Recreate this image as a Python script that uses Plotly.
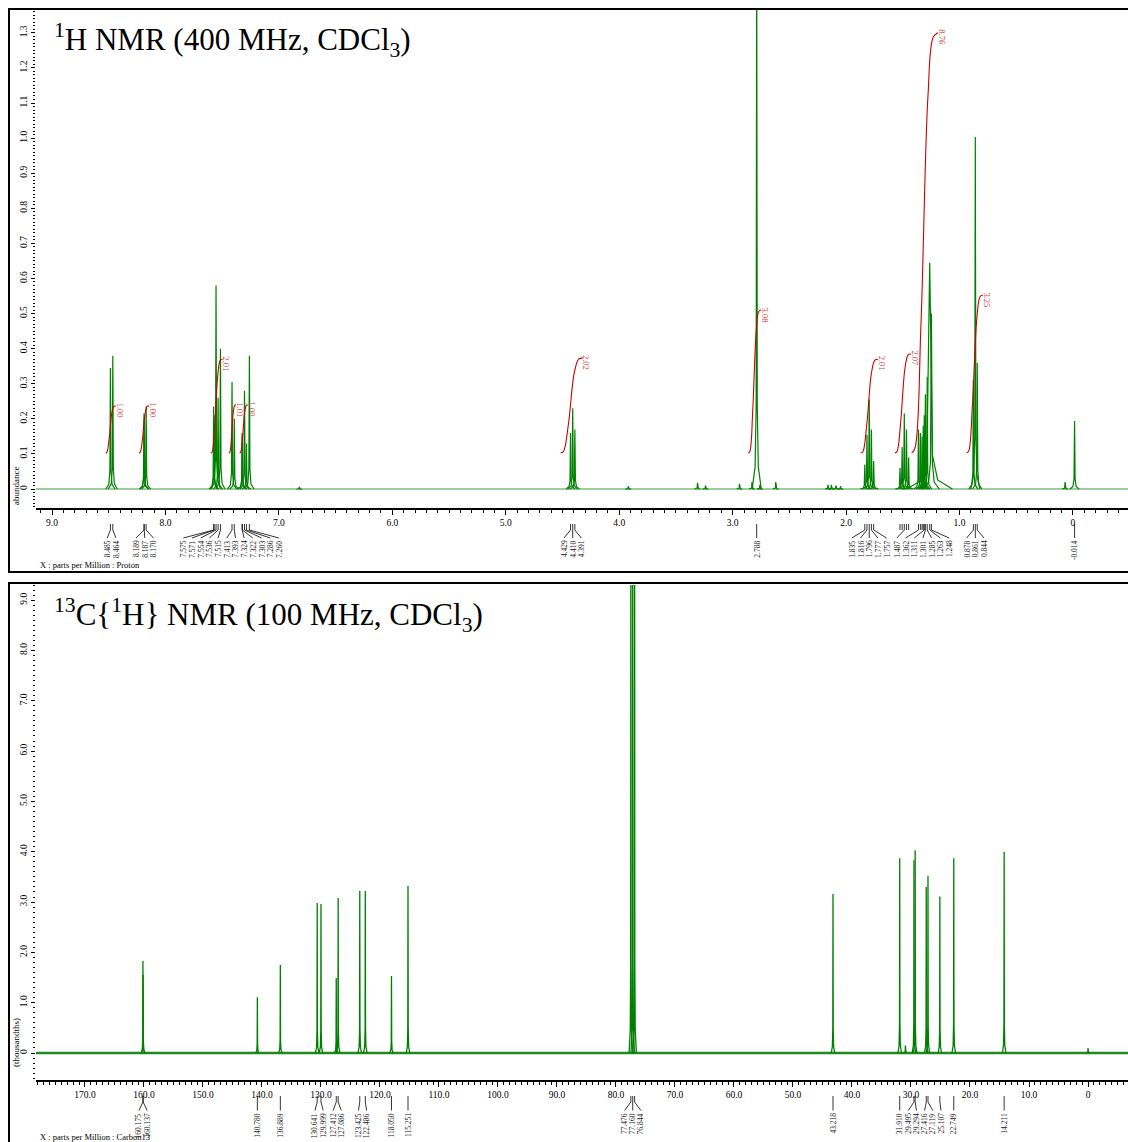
import plotly.graph_objects as go

# ---------------- page geometry (page pixels) ----------------
FIG_W, FIG_H = 1128, 1142
OFF = 0  # body margin is removed by the post script


def fx(xp):
    return (xp - OFF) / FIG_W


def fy(yp):
    return 1 - (yp - OFF) / FIG_H


SERIF = "Liberation Serif"
GREEN = "#008000"
BASE_GREEN = "#3c9c3c"
RED = "#cc0000"
RED_TXT = "#d43a3a"

# ---------------- 1H data ----------------
H_TITLE = "<sup>1</sup>H NMR (400 MHz, CDCl<sub>3</sub>)"
H_XRANGE = [9.141, -0.485]
H_YRANGE = [-0.054, 1.365]
H_XTICKS = [9, 8, 7, 6, 5, 4, 3, 2, 1, 0]
H_XTICKTEXT = ["9.0", "8.0", "7.0", "6.0", "5.0", "4.0", "3.0", "2.0", "1.0", "0"]
H_YTICKS = [0, 0.1, 0.2, 0.3, 0.4, 0.5, 0.6, 0.7, 0.8, 0.9, 1.0, 1.1, 1.2, 1.3]
H_YTICKTEXT = ["0", "0.1", "0.2", "0.3", "0.4", "0.5", "0.6", "0.7", "0.8", "0.9",
               "1.0", "1.1", "1.2", "1.3"]

# labelled (picked) peaks
H_PPM = [8.485, 8.464, 8.189, 8.187, 8.170,
         7.575, 7.571, 7.554, 7.536, 7.515, 7.413, 7.393,
         7.324, 7.322, 7.303, 7.286, 7.260,
         4.429, 4.410, 4.391, 2.788,
         1.835, 1.816, 1.796, 1.777, 1.757,
         1.487, 1.362, 1.311, 1.301, 1.285, 1.263, 1.248,
         0.878, 0.861, 0.844, -0.014]
H_HEIGHT = [0.345, 0.380, 0.215, 0.200, 0.235,
            0.235, 0.210, 0.580, 0.260, 0.400, 0.305, 0.200,
            0.160, 0.150, 0.280, 0.130, 0.380,
            0.160, 0.230, 0.170, 1.600,
            0.070, 0.155, 0.255, 0.170, 0.080,
            0.215, 0.170, 0.210, 0.270, 0.320, 0.645, 0.500,
            0.310, 1.003, 0.360, 0.194]
H_WIDTH = [0.04] * 31 + [0.2, 0.07] + [0.04] * 4

# unlabelled peaks that still carry a pick mark
H_TICKED_PPM = [1.525, 1.506, 1.468, 1.449, 1.345, 1.330, 1.320]
H_TICKED_HEIGHT = [0.060, 0.120, 0.170, 0.090, 0.160, 0.150, 0.180]

# small impurity peaks (not picked)
H_MINOR_PPM = [6.82, 3.92, 3.31, 3.24, 2.94, 2.83, 2.76, 2.62, 2.16, 2.13, 2.09, 2.05, 0.07]
H_MINOR_HEIGHT = [0.006, 0.008, 0.018, 0.010, 0.015, 0.020, 0.012, 0.020, 0.012, 0.012,
                  0.010, 0.008, 0.020]

# integrals
H_INT_START = [8.527, 8.233, 7.601, 7.440, 7.346, 4.516, 2.862, 1.871, 1.569, 1.422, 0.937]
H_INT_END = [8.439, 8.145, 7.498, 7.378, 7.274, 4.322, 2.750, 1.719, 1.428, 1.190, 0.793]
H_INT_BASE = [0.103] * 11
H_INT_TOP = [0.237, 0.237, 0.370, 0.240, 0.240, 0.373, 0.510, 0.370, 0.385, 1.300, 0.553]
H_INT_VALUE = ["1.00", "1.00", "2.01", "1.01", "1.00", "2.02", "3.08", "2.01", "2.07",
               "8.76", "3.25"]

# ---------------- 13C data ----------------
C_TITLE = "<sup>13</sup>C{<sup>1</sup>H} NMR (100 MHz, CDCl<sub>3</sub>)"
C_XRANGE = [178.3, -6.78]
C_YRANGE = [-0.536, 9.30]
C_XTICKS = [170, 160, 150, 140, 130, 120, 110, 100, 90, 80, 70, 60, 50, 40, 30, 20, 10, 0]
C_XTICKTEXT = ["170.0", "160.0", "150.0", "140.0", "130.0", "120.0", "110.0", "100.0",
               "90.0", "80.0", "70.0", "60.0", "50.0", "40.0", "30.0", "20.0", "10.0", "0"]
C_YTICKS = [0, 1, 2, 3, 4, 5, 6, 7, 8, 9]
C_YTICKTEXT = ["0", "1.0", "2.0", "3.0", "4.0", "5.0", "6.0", "7.0", "8.0", "9.0"]

C_PPM = [160.175, 160.137, 140.780, 136.889, 130.641, 129.999, 127.412, 127.086,
         123.425, 122.486, 118.050, 115.251, 77.476, 77.160, 76.844, 43.218,
         31.910, 29.495, 29.294, 27.416, 27.119, 25.107, 22.749, 14.211]
C_HEIGHT = [1.83, 1.55, 1.11, 1.75, 2.98, 2.96, 1.49, 3.08,
            3.22, 3.22, 1.53, 3.32, 11.5, 12.0, 11.5, 3.16,
            3.87, 3.83, 4.03, 3.30, 3.52, 3.11, 3.87, 4.00]
C_MINOR_PPM = [30.95, 0.0]
C_MINOR_HEIGHT = [0.15, 0.10]


# ---------------- helpers ----------------
def peak_path(ppms, heights, widths):
    xs, ys = [], []
    for p, h, w in zip(ppms, heights, widths):
        xs += [p + w, p + 0.35 * w, p + 0.12 * w, p, p - 0.12 * w, p - 0.35 * w, p - w, None]
        ys += [0, 0.04 * h, 0.15 * h, h, 0.15 * h, 0.04 * h, 0, None]
    return xs, ys


def spread_labels(ppms, xrange_, dom_px, spacing):
    ppx = dom_px / (xrange_[0] - xrange_[1])
    order = sorted(range(len(ppms)), key=lambda i: -ppms[i])
    xs = [(xrange_[0] - ppms[i]) * ppx for i in order]

    def pos(c):
        cen = sum(xs[i] for i in c) / len(c)
        return [cen + (k - (len(c) - 1) / 2) * spacing for k in range(len(c))]

    clusters = [[i] for i in range(len(xs))]
    changed = True
    while changed:
        changed = False
        for j in range(len(clusters) - 1):
            a, b = pos(clusters[j]), pos(clusters[j + 1])
            if b[0] - a[-1] < spacing - 1e-9:
                clusters[j] = clusters[j] + clusters[j + 1]
                del clusters[j + 1]
                changed = True
                break
    placed = []
    for c in clusters:
        placed += pos(c)
    result = [0.0] * len(ppms)
    for k, i in enumerate(order):
        result[i] = xrange_[0] - placed[k] / ppx
    return result


fig = go.Figure()

# ---------------- 1H spectrum ----------------
fig.add_trace(go.Scatter(x=H_XRANGE, y=[0, 0], mode="lines",
                         line=dict(color=BASE_GREEN, width=1.1),
                         xaxis="x", yaxis="y", hoverinfo="skip"))
hx, hy = peak_path(H_PPM + H_TICKED_PPM + H_MINOR_PPM,
                   H_HEIGHT + H_TICKED_HEIGHT + H_MINOR_HEIGHT,
                   H_WIDTH + [0.04] * len(H_TICKED_PPM) + [0.025] * len(H_MINOR_PPM))
fig.add_trace(go.Scatter(x=hx, y=hy, mode="lines", line=dict(color=GREEN, width=1.2),
                         xaxis="x", yaxis="y", hoverinfo="skip"))

annotations = []
shapes = []

# integrals
for s, e, b, t, v in zip(H_INT_START, H_INT_END, H_INT_BASE, H_INT_TOP, H_INT_VALUE):
    d = s - e
    h = t - b
    xs = [s, s - 0.12 * d, s - 0.35 * d, s - 0.62 * d, s - 0.82 * d, e]
    ys = [b, b + 0.01 * h, b + 0.3 * h, t - 0.15 * h, t - 0.01 * h, t]
    fig.add_trace(go.Scatter(x=xs, y=ys, mode="lines",
                             line=dict(color=RED, width=1.1, shape="spline", smoothing=1.0),
                             xaxis="x", yaxis="y", hoverinfo="skip"))
    annotations.append(dict(x=e, y=t, xref="x", yref="y", text=v, showarrow=False,
                            textangle=90, xanchor="center", yanchor="top", xshift=4, yshift=3,
                            borderpad=0, borderwidth=0,
                            font=dict(family=SERIF, size=8.5, color=RED_TXT)))

# 1H peak pick labels
h_lab = spread_labels(H_PPM, H_XRANGE, 1128 - 36, 8.7)
for p, lx in zip(H_PPM, h_lab):
    shapes.append(dict(type="path", xref="x", yref="paper",
                       path=f"M {p},{fy(524)} L {p},{fy(530)} L {lx},{fy(538)}",
                       line=dict(color="black", width=0.8)))
    annotations.append(dict(x=lx, y=fy(540.5), xref="x", yref="paper", text=f"{p:.3f}",
                            showarrow=False, textangle=-90, xanchor="center", yanchor="top",
                            borderpad=0, borderwidth=0,
                            font=dict(family=SERIF, size=7.5, color="#222222")))
for p in H_TICKED_PPM:
    shapes.append(dict(type="path", xref="x", yref="paper",
                       path=f"M {p},{fy(524)} L {p},{fy(530)}",
                       line=dict(color="black", width=0.8)))

# ---------------- 13C spectrum ----------------
fig.add_trace(go.Scatter(x=C_XRANGE, y=[0, 0], mode="lines",
                         line=dict(color="#1f8a1f", width=2.6),
                         xaxis="x2", yaxis="y2", hoverinfo="skip"))
cx, cy = peak_path(C_PPM + C_MINOR_PPM, C_HEIGHT + C_MINOR_HEIGHT,
                   [0.3] * (len(C_PPM) + len(C_MINOR_PPM)))
fig.add_trace(go.Scatter(x=cx, y=cy, mode="lines", line=dict(color=GREEN, width=1.3),
                         xaxis="x2", yaxis="y2", hoverinfo="skip"))

c_lab = spread_labels(C_PPM, C_XRANGE, 1128 - 36, 8.2)
for p, lx in zip(C_PPM, c_lab):
    shapes.append(dict(type="path", xref="x2", yref="paper",
                       path=f"M {p},{fy(1096)} L {p},{fy(1102)} L {lx},{fy(1110.5)}",
                       line=dict(color="black", width=0.8)))
    annotations.append(dict(x=lx, y=fy(1113), xref="x2", yref="paper", text=f"{p:.3f}",
                            showarrow=False, textangle=-90, xanchor="center", yanchor="top",
                            borderpad=0, borderwidth=0,
                            font=dict(family=SERIF, size=7.5, color="#222222")))

# ---------------- frames & texts ----------------
for (y0, y1) in [(9, 572), (583, 1160)]:
    shapes.append(dict(type="rect", xref="paper", yref="paper",
                       x0=fx(9), x1=fx(1140), y0=fy(y1), y1=fy(y0),
                       line=dict(color="black", width=2), fillcolor="rgba(0,0,0,0)"))

annotations += [
    dict(x=fx(52), y=fy(40), xref="paper", yref="paper", text=H_TITLE, showarrow=False,
         xanchor="left", yanchor="middle", font=dict(family=SERIF, size=31, color="black")),
    dict(x=fx(52), y=fy(615), xref="paper", yref="paper", text=C_TITLE, showarrow=False,
         xanchor="left", yanchor="middle", font=dict(family=SERIF, size=31, color="black")),
    dict(x=fx(38), y=fy(565), xref="paper", yref="paper",
         text="X : parts per Million : Proton", showarrow=False,
         xanchor="left", yanchor="middle", font=dict(family=SERIF, size=8.5, color="black")),
    dict(x=fx(38), y=fy(1137), xref="paper", yref="paper",
         text="X : parts per Million : Carbon13", showarrow=False,
         xanchor="left", yanchor="middle", font=dict(family=SERIF, size=8.5, color="black")),
    dict(x=fx(16), y=fy(486), xref="paper", yref="paper", text="abundance", showarrow=False,
         textangle=-90, xanchor="center", yanchor="middle",
         font=dict(family=SERIF, size=9, color="black")),
    dict(x=fx(16), y=fy(1043), xref="paper", yref="paper", text="(thousandths)",
         showarrow=False, textangle=-90, xanchor="center", yanchor="middle",
         font=dict(family=SERIF, size=9, color="black")),
]

tickfont = dict(family=SERIF, size=9.5, color="black")

xcommon = dict(showgrid=False, zeroline=False, showline=True, linecolor="black",
               linewidth=1.5, ticks="outside", ticklen=5, tickwidth=1, tickcolor="black",
               tickfont=tickfont, tickangle=0, fixedrange=True)
ycommon = dict(showgrid=False, zeroline=False, showline=False, ticks="outside",
               ticklen=4, tickwidth=1, tickcolor="black", tickfont=tickfont,
               tickangle=-90, fixedrange=True)

fig.update_layout(
    width=FIG_W, height=FIG_H,
    margin=dict(l=0, r=0, t=0, b=0),
    paper_bgcolor="white", plot_bgcolor="white",
    showlegend=False,
    hovermode=False,
    xaxis=dict(**xcommon, domain=[fx(36), 1.0], range=H_XRANGE, anchor="y",
               tickvals=H_XTICKS, ticktext=H_XTICKTEXT,
               minor=dict(dtick=0.1, tick0=0, ticklen=3, ticks="outside",
                          tickcolor="black", tickwidth=1)),
    yaxis=dict(**ycommon, domain=[fy(508), fy(10)], range=H_YRANGE, anchor="x",
               tickvals=H_YTICKS, ticktext=H_YTICKTEXT,
               minor=dict(dtick=0.01, tick0=0, ticklen=2, ticks="outside",
                          tickcolor="black", tickwidth=1)),
    xaxis2=dict(**xcommon, domain=[fx(36), 1.0], range=C_XRANGE, anchor="y2",
                tickvals=C_XTICKS, ticktext=C_XTICKTEXT,
                minor=dict(dtick=1, tick0=0, ticklen=3, ticks="outside",
                           tickcolor="black", tickwidth=1)),
    yaxis2=dict(**ycommon, domain=[fy(1080), fy(585)], range=C_YRANGE, anchor="x2",
                tickvals=C_YTICKS, ticktext=C_YTICKTEXT,
                minor=dict(dtick=0.1, tick0=0, ticklen=2, ticks="outside",
                           tickcolor="black", tickwidth=1)),
    annotations=annotations,
    shapes=shapes,
)

fig.write_html("out.html",
               config={"displayModeBar": False, "staticPlot": True},
               post_script="document.body.style.margin='0';"
                           "document.body.style.overflow='hidden';")
